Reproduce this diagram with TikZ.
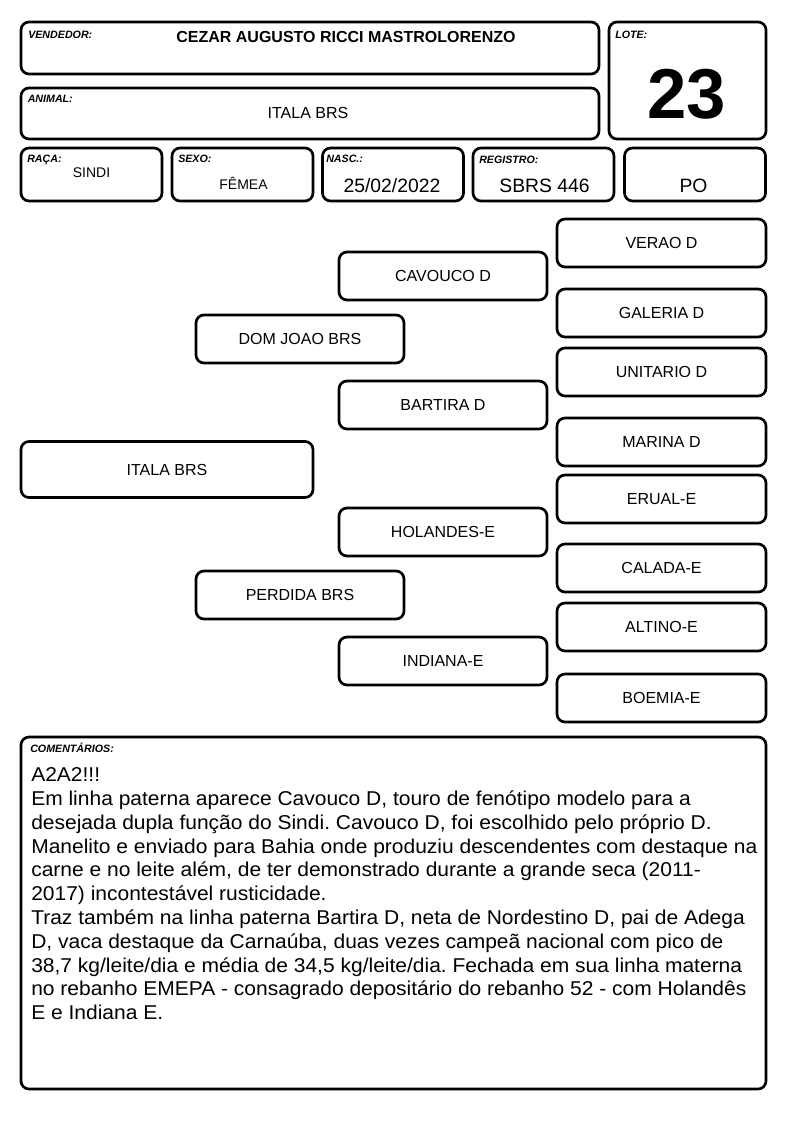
\documentclass[tikz,border=0pt]{standalone}
\usepackage{fontspec}
\setmainfont{Liberation Sans}
\newfontfamily\comfont[FakeStretch=1.05]{Liberation Sans}
\frenchspacing
\begin{document}
\begin{tikzpicture}[x=0.75pt,y=-0.75pt,
  box/.style={draw, line width=2pt, rounded corners=6pt, inner sep=0pt},
  lab/.style={anchor=base west, inner sep=0pt, font=\fontsize{8}{9}\selectfont\bfseries\itshape},
  val/.style={anchor=base, inner sep=0pt},
  ped/.style={box, minimum width=156.75pt, minimum height=36pt, font=\fontsize{12}{14}\selectfont},
  pedm/.style={box, minimum width=156pt, minimum height=36pt, font=\fontsize{12}{14}\selectfont},
  info/.style={box, minimum width=105.75pt, minimum height=39.75pt}]
\useasboundingbox (0,0) rectangle (794,1123);
% header boxes
\node[box, minimum width=433.5pt, minimum height=39pt] (vend) at (310,48) {};
\node[box, minimum width=433.5pt, minimum height=38.25pt] (anim) at (310,113.5) {};
\node[box, minimum width=117.75pt, minimum height=87.75pt] (lote) at (687.5,80.5) {};
\node[info] (raca) at (91.5,174.5) {};
\node[info] (sexo) at (242.5,174.5) {};
\node[info] (nasc) at (393,174.5) {};
\node[info] (reg) at (543.5,174.5) {};
\node[info] (po) at (695,174.5) {};
% labels
\node[lab] (lvend) at (28,39) {VENDEDOR:};
\node[lab] (lanim) at (27.5,103) {ANIMAL:};
\node[lab] (llote) at (615,39) {LOTE:};
\node[lab] (lraca) at (27,163) {RAÇA:};
\node[lab] (lsexo) at (178,163) {SEXO:};
\node[lab] (lnasc) at (326,163) {NASC.:};
\node[lab] (lreg) at (479,164) {REGISTRO:};
\node[lab] (lcom) at (30,752) {COMENTÁRIOS:};
% values
\node[val, font=\fontsize{12}{14}\selectfont\bfseries] (tvend) at (346,43) {CEZAR AUGUSTO RICCI MASTROLORENZO};
\node[val, font=\fontsize{12}{14}\selectfont] (tanim) at (308,119) {ITALA BRS};
\node[val, font=\fontsize{53}{60}\selectfont\bfseries] (tlote) at (687,119) {23};
\node[val, font=\fontsize{10.5}{12}\selectfont] (traca) at (91.5,178) {SINDI};
\node[val, font=\fontsize{10.5}{12}\selectfont] (tsexo) at (243.5,189.3) {FÊMEA};
\node[val, font=\fontsize{14.5}{16}\selectfont] (tnasc) at (392,193) {25/02/2022};
\node[val, font=\fontsize{14.5}{16}\selectfont] (treg) at (544.5,193) {SBRS 446};
\node[val, font=\fontsize{14.5}{16}\selectfont] (tpo) at (693.5,193) {PO};
% pedigree
\node[box, minimum width=219pt, minimum height=42pt, font=\fontsize{12}{14}\selectfont] (itala) at (167,469.5) {ITALA BRS};
\node[pedm] (domjoao) at (300,339) {DOM JOAO BRS};
\node[pedm] (perdida) at (300,595) {PERDIDA BRS};
\node[pedm] (cavouco) at (443,276) {CAVOUCO D};
\node[pedm] (bartira) at (443,405) {BARTIRA D};
\node[pedm] (holandes) at (443,532) {HOLANDES-E};
\node[pedm] (indiana) at (443,661) {INDIANA-E};
\node[ped] (verao) at (661.5,243) {VERAO D};
\node[ped] (galeria) at (661.5,313) {GALERIA D};
\node[ped] (unitario) at (661.5,372) {UNITARIO D};
\node[ped] (marina) at (661.5,442) {MARINA D};
\node[ped] (erual) at (661.5,499) {ERUAL-E};
\node[ped] (calada) at (661.5,568) {CALADA-E};
\node[ped] (altino) at (661.5,627) {ALTINO-E};
\node[ped] (boemia) at (661.5,698) {BOEMIA-E};
% comments
\node[box, minimum width=558.75pt, minimum height=264pt] (com) at (393.5,913) {};
\node[anchor=north west, inner sep=0pt, align=left, font=\comfont\fontsize{15}{17.85}\selectfont] (comtext) at (31,767.5) {A2A2!!!\\
Em linha paterna aparece Cavouco D, touro de fenótipo modelo para a\\
desejada dupla função do Sindi. Cavouco D, foi escolhido pelo próprio D.\\
Manelito e enviado para Bahia onde produziu descendentes com destaque na\\
carne e no leite além, de ter demonstrado durante a grande seca (2011-\\
2017) incontestável rusticidade.\\
Traz também na linha paterna Bartira D, neta de Nordestino D, pai de Adega\\
D, vaca destaque da Carnaúba, duas vezes campeã nacional com pico de\\
38,7 kg/leite/dia e média de 34,5 kg/leite/dia. Fechada em sua linha materna\\
no rebanho EMEPA - consagrado depositário do rebanho 52 - com Holandês\\
E e Indiana E.};
\end{tikzpicture}
\end{document}
